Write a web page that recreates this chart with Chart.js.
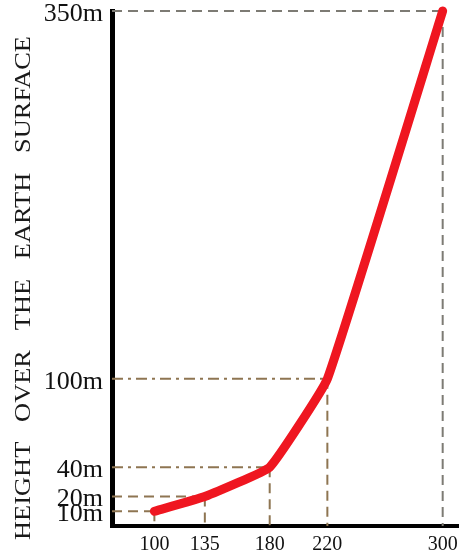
<!DOCTYPE html>
<html>
<head>
<meta charset="utf-8">
<script src="https://cdn.jsdelivr.net/npm/chart.js@4/dist/chart.umd.min.js"></script>
<style>
  html, body { margin: 0; padding: 0; background: #fff; }
  canvas { display: block; }
</style>
</head>
<body>
<canvas id="heightChart" width="467" height="555"></canvas>
<script>
// distance along the ground vs height over the surface
const distances = [100, 135, 180, 220, 300];
const heights = [10, 20, 40, 100, 350];

const xTicks = [100, 135, 180, 220, 300];
const yTicks = [10, 20, 40, 100, 350];
const yTitle = 'HEIGHT   OVER   THE   EARTH   SURFACE';

const X_MIN = 70.6, X_MAX = 310.9;
const BROWN = '#8e7552';
const GREY = '#7d7b74';

const points = distances.map((d, i) => ({ x: d, y: heights[i] }));

// dashed guides: across from the height axis, and down to the ground
const guideSets = [];
points.forEach((p, i) => {
    const last = i === points.length - 1;
    const color = last ? GREY : BROWN;
    const hDash = (p.y === 40 || p.y === 100) ? [11, 5, 3, 5] : [10, 6];
    guideSets.push({
        data: [{ x: X_MIN, y: p.y }, { x: p.x, y: p.y }],
        borderColor: color, borderWidth: 2, borderDash: hDash,
        pointRadius: 0, order: 2, clip: false
    });
    guideSets.push({
        data: [{ x: p.x, y: p.y }, { x: p.x, y: 0 }],
        borderColor: color, borderWidth: 2, borderDash: [10, 6],
        pointRadius: 0, order: 2, clip: false
    });
});

// rotated axis title, slightly widened like the printed lettering
const sideTitle = {
    id: 'sideTitle',
    afterDraw(chart) {
        const ctx = chart.ctx;
        ctx.save();
        ctx.translate(24, 288);
        ctx.rotate(-Math.PI / 2);
        ctx.scale(1.1, 1);
        ctx.font = '24px "Liberation Serif", "DejaVu Serif", serif';
        ctx.fillStyle = '#1a1a1a';
        ctx.textAlign = 'center';
        ctx.textBaseline = 'middle';
        ctx.fillText(yTitle, 0, 0);
        ctx.restore();
    }
};

new Chart(document.getElementById('heightChart'), {
    type: 'line',
    data: {
        datasets: [{
            data: points,
            borderColor: '#ef1620',
            borderWidth: 9,
            borderCapStyle: 'round',
            borderJoinStyle: 'round',
            tension: 0.1,
            pointRadius: 0,
            order: 0,
            clip: false
        }, ...guideSets]
    },
    options: {
        responsive: false,
        animation: false,
        layout: { padding: { top: 11, right: 7, left: 0, bottom: 0 } },
        plugins: { legend: { display: false }, tooltip: { enabled: false } },
        scales: {
            x: {
                type: 'linear',
                min: X_MIN,
                max: X_MAX,
                afterBuildTicks: s => { s.ticks = xTicks.map(v => ({ value: v })); },
                afterFit: s => { s.height = 29; },
                grid: { display: false, drawTicks: false },
                border: { display: true, color: '#000', width: 4 },
                ticks: {
                    color: '#111',
                    padding: 9,
                    maxRotation: 0,
                    autoSkip: false,
                    font: { family: '"Liberation Serif", serif', size: 20, lineHeight: 1 }
                }
            },
            y: {
                type: 'linear',
                min: 0,
                max: 350,
                afterBuildTicks: s => { s.ticks = yTicks.map(v => ({ value: v })); },
                afterFit: s => { s.width = 112; s.paddingTop = 0; s.paddingBottom = 0; },
                grid: { display: false, drawTicks: false },
                border: { display: true, color: '#000', width: 5 },
                ticks: {
                    color: '#111',
                    padding: 9,
                    labelOffset: 3,
                    autoSkip: false,
                    callback: v => v + 'm',
                    font: { family: '"Liberation Serif", serif', size: 26, lineHeight: 1 }
                }
            }
        }
    },
    plugins: [sideTitle]
});
</script>
</body>
</html>
